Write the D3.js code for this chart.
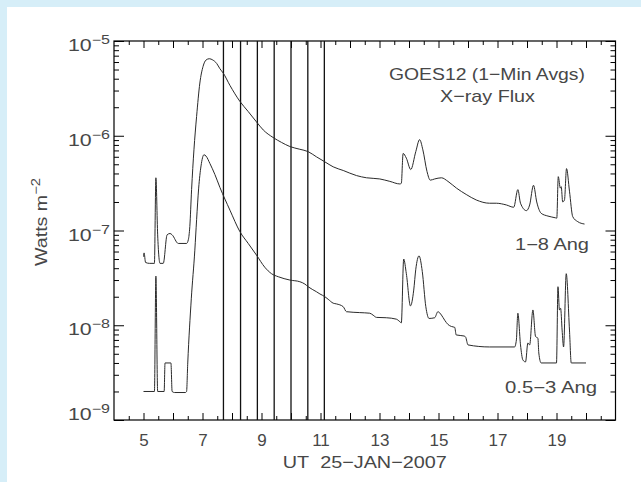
<!DOCTYPE html>
<html>
<head>
<meta charset="utf-8">
<script src="https://cdn.jsdelivr.net/npm/d3@7"></script>
<style>
  html, body { margin: 0; padding: 0; background: #d6eef8; }
  svg { display: block; }
  text { font-family: "Liberation Sans", Arial, sans-serif; fill: #474747; }
</style>
</head>
<body>
<svg id="chart" width="641" height="482"></svg>
<script>
// GOES-12 one-minute X-ray flux, 25 Jan 2007 (UT hours)
const hoursLong = [5.00, 5.02, 5.07, 5.20, 5.37, 5.42, 5.48, 5.56, 5.67, 5.80, 5.90, 5.97, 6.18, 6.46, 6.52,
  6.57, 6.63, 6.71, 6.80, 6.91, 7.02, 7.12, 7.23, 7.35, 7.48, 7.59, 7.70, 7.93, 8.27, 8.55, 8.83, 9.06,
  9.39, 9.68, 9.96, 10.30, 10.58, 10.86, 11.15, 11.43, 11.77, 12.22, 12.56, 13.01, 13.35, 13.69, 13.74,
  13.80, 13.91, 14.06, 14.23, 14.36, 14.47, 14.61, 14.72, 14.87, 15.10, 15.32, 15.61, 15.94, 16.28, 16.73,
  16.96, 17.30, 17.55, 17.69, 17.78, 17.98, 18.09, 18.22, 18.33, 18.48, 18.71, 18.97, 19.01, 19.06, 19.13,
  19.16, 19.21, 19.27, 19.34, 19.44, 19.55, 19.72, 19.95];
const fluxLong = [5.3e-8, 5.8e-8, 4.6e-8, 4.5e-8, 4.5e-8, 3.6e-7, 9.0e-8, 4.5e-8, 4.5e-8, 9.0e-8, 9.3e-8, 9.0e-8, 7.3e-8, 7.3e-8, 8.0e-8,
  1.1e-7, 2.7e-7, 7.1e-7, 1.6e-6, 3.6e-6, 5.4e-6, 6.3e-6, 6.5e-6, 6.3e-6, 5.8e-6, 5.1e-6, 4.6e-6, 3.4e-6, 2.3e-6, 1.8e-6, 1.4e-6, 1.15e-6,
  9.6e-7, 8.5e-7, 7.7e-7, 7.2e-7, 6.8e-7, 6.0e-7, 5.3e-7, 4.7e-7, 4.3e-7, 3.8e-7, 3.6e-7, 3.5e-7, 3.3e-7, 3.1e-7, 3.15e-7,
  6.5e-7, 5.8e-7, 4.4e-7, 6.8e-7, 9.1e-7, 7.1e-7, 4.2e-7, 3.4e-7, 3.5e-7, 3.6e-7, 3.3e-7, 2.8e-7, 2.4e-7, 2.1e-7, 1.94e-7,
  1.94e-7, 1.86e-7, 1.76e-7, 2.7e-7, 1.94e-7, 1.62e-7, 1.86e-7, 3.0e-7, 2.0e-7, 1.52e-7, 1.42e-7, 1.36e-7, 1.35e-7, 3.7e-7, 2.8e-7,
  2.9e-7, 2.0e-7, 2.1e-7, 4.5e-7, 2.6e-7, 1.40e-7, 1.24e-7, 1.17e-7];

const hoursShort = [5.00, 5.37, 5.42, 5.48, 5.70, 5.73, 5.93, 5.97, 6.05, 6.42, 6.46, 6.50, 6.62, 6.74, 6.80,
  6.87, 6.95, 7.05, 7.12, 7.25, 7.42, 7.59, 7.93, 8.27, 8.55, 8.83, 9.11, 9.34, 9.57, 9.96, 10.30, 10.47,
  10.58, 10.86, 10.98, 11.15, 11.26, 11.43, 11.54, 11.77, 11.88, 12.33, 12.67, 12.78, 12.90, 13.23, 13.57,
  13.69, 13.74, 13.82, 13.91, 14.05, 14.16, 14.23, 14.34, 14.45, 14.57, 14.68, 14.87, 14.98, 15.10, 15.21,
  15.32, 15.44, 15.55, 15.60, 15.87, 15.92, 16.00, 16.73, 17.58, 17.64, 17.69, 17.78, 17.86, 17.95, 18.03,
  18.09, 18.20, 18.29, 18.37, 18.40, 18.48, 19.00, 19.05, 19.10, 19.14, 19.19, 19.24, 19.33, 19.44, 19.50, 20.00];
const fluxShort = [2.0e-9, 2.0e-9, 3.3e-8, 2.0e-9, 2.0e-9, 4.0e-9, 4.0e-9, 2.0e-9, 1.95e-9, 1.95e-9, 2.0e-9, 4.0e-9, 1.9e-8, 6.2e-8, 1.3e-7,
  2.8e-7, 4.8e-7, 6.3e-7, 6.1e-7, 5.1e-7, 3.9e-7, 2.85e-7, 1.64e-7, 9.7e-8, 7.3e-8, 5.5e-8, 4.1e-8, 3.5e-8, 3.25e-8, 3.0e-8, 2.88e-8, 2.72e-8,
  2.55e-8, 2.26e-8, 2.14e-8, 2.0e-8, 1.88e-8, 1.71e-8, 1.68e-8, 1.57e-8, 1.39e-8, 1.36e-8, 1.34e-8, 1.28e-8, 1.21e-8, 1.20e-8, 1.16e-8,
  1.09e-8, 1.06e-8, 5.0e-8, 3.5e-8, 1.6e-8, 2.35e-8, 3.9e-8, 5.4e-8, 3.7e-8, 1.57e-8, 1.18e-8, 1.2e-8, 1.39e-8, 1.28e-8, 1.13e-8,
  1.02e-8, 9.7e-9, 9.5e-9, 7.9e-9, 7.7e-9, 7.5e-9, 6.2e-9, 5.9e-9, 5.9e-9, 7.0e-9, 1.34e-8, 6.2e-9, 4.3e-9, 4.1e-9, 6.5e-9,
  6.2e-9, 1.45e-8, 7.6e-9, 7.3e-9, 5.1e-9, 4.0e-9, 4.0e-9, 2.55e-8, 1.45e-8, 1.51e-8, 8.9e-9, 5.9e-9, 3.5e-8, 8.9e-9, 4.0e-9, 4.0e-9];

// time markers (UT hours)
const markerHours = [7.71, 8.29, 8.86, 9.43, 10.00, 10.57, 11.13];

// axis ticks and labels
const majorHours = d3.range(5, 21, 1);
const minorHours = d3.range(4.5, 21, 1);
const labelHours = [5, 7, 9, 11, 13, 15, 17, 19];
const decadeExponents = [-9, -8, -7, -6, -5];

const W = 641, H = 482;
const box = { left: 114, right: 615.5, top: 41, bottom: 420 };

const svg = d3.select("#chart");
svg.append("rect").attr("width", W).attr("height", H).attr("fill", "#d6eef8");
svg.append("rect").attr("x", 7).attr("y", 7).attr("width", W - 7).attr("height", H - 7).attr("fill", "#ffffff");

const x = d3.scaleLinear().domain([4, 21]).range([box.left, box.right]);
const y = d3.scaleLog().domain([1e-9, 1e-5]).range([box.bottom, box.top]);

// minor y ticks: 2..9 within each decade
const minorFlux = [];
decadeExponents.slice(0, -1).forEach(e => {
  for (let k = 2; k <= 9; k++) minorFlux.push(k * Math.pow(10, e));
});
const majorFlux = decadeExponents.map(e => Math.pow(10, e));

function tickAxis(axisFn, scale, values, size, tx, ty) {
  const g = svg.append("g")
    .attr("transform", `translate(${tx},${ty})`)
    .call(axisFn(scale).tickValues(values).tickSizeInner(size).tickSizeOuter(0).tickFormat(""));
  g.select(".domain").remove();
  g.selectAll("line").attr("stroke", "#000").attr("stroke-width", 1);
  return g;
}

// inward ticks on all four sides
tickAxis(d3.axisBottom, x, majorHours, -7, 0, box.bottom);
tickAxis(d3.axisBottom, x, minorHours, -4, 0, box.bottom);
tickAxis(d3.axisTop, x, majorHours, -7, 0, box.top);
tickAxis(d3.axisTop, x, minorHours, -4, 0, box.top);
tickAxis(d3.axisLeft, y, majorFlux, -10, box.left, 0);
tickAxis(d3.axisLeft, y, minorFlux, -5, box.left, 0);
tickAxis(d3.axisRight, y, majorFlux, -10, box.right, 0);
tickAxis(d3.axisRight, y, minorFlux, -5, box.right, 0);

// frame
svg.append("rect")
  .attr("x", box.left).attr("y", box.top)
  .attr("width", box.right - box.left).attr("height", box.bottom - box.top)
  .attr("fill", "none").attr("stroke", "#000").attr("stroke-width", 1.2);

// marker lines
svg.append("g").selectAll("line").data(markerHours).join("line")
  .attr("x1", d => x(d)).attr("x2", d => x(d))
  .attr("y1", box.top).attr("y2", box.bottom)
  .attr("stroke", "#111").attr("stroke-width", 1.3);

// flux curves
const path = (hours, flux) => d3.line()
  .x((d, i) => x(hours[i]))
  .y(d => y(d))
  .curve(d3.curveMonotoneX)(flux);

svg.append("path").attr("d", path(hoursLong, fluxLong))
  .attr("fill", "none").attr("stroke", "#2a2a2a").attr("stroke-width", 1);
svg.append("path").attr("d", path(hoursShort, fluxShort))
  .attr("fill", "none").attr("stroke", "#2a2a2a").attr("stroke-width", 1);

// x tick labels
const xl = svg.append("g")
  .attr("transform", `translate(0,${box.bottom})`)
  .call(d3.axisBottom(x).tickValues(labelHours).tickSize(0).tickPadding(14).tickFormat(d3.format("d")));
xl.select(".domain").remove();
xl.selectAll("text").attr("font-size", 17).attr("font-family", "Liberation Sans, Arial, sans-serif").attr("fill", "#474747");

// y tick labels 10^n
const yl = svg.append("g").selectAll("text").data(decadeExponents).join("text")
  .attr("x", 110)
  .attr("y", d => Math.min(y(Math.pow(10, d)) + 10, box.bottom))
  .attr("text-anchor", "end")
  .attr("font-size", 16)
  .attr("textLength", 42).attr("lengthAdjust", "spacingAndGlyphs");
yl.append("tspan").text("10");
yl.append("tspan").attr("font-size", 12).attr("dy", -7).text(d => "\u2212" + Math.abs(d));

// axis titles
svg.append("text")
  .attr("x", (box.left + box.right) / 2).attr("y", 468)
  .attr("text-anchor", "middle").attr("font-size", 17)
  .attr("textLength", 164).attr("lengthAdjust", "spacingAndGlyphs")
  .text("UT\u00a0\u00a025\u2212JAN\u22122007");

const yt = svg.append("text")
  .attr("transform", "translate(47,222) rotate(-90)")
  .attr("text-anchor", "middle").attr("font-size", 16)
  .attr("textLength", 88).attr("lengthAdjust", "spacingAndGlyphs");
yt.append("tspan").text("Watts m");
yt.append("tspan").attr("font-size", 12).attr("dy", -7).text("\u22122");

// annotations
svg.append("text").attr("x", 487).attr("y", 79.5)
  .attr("text-anchor", "middle").attr("font-size", 17)
  .attr("textLength", 196).attr("lengthAdjust", "spacingAndGlyphs")
  .text("GOES12 (1\u2212Min Avgs)");
svg.append("text").attr("x", 487.5).attr("y", 101.5)
  .attr("text-anchor", "middle").attr("font-size", 17)
  .attr("textLength", 95).attr("lengthAdjust", "spacingAndGlyphs")
  .text("X\u2212ray Flux");
svg.append("text").attr("x", 589).attr("y", 249.5)
  .attr("text-anchor", "end").attr("font-size", 16)
  .attr("textLength", 74).attr("lengthAdjust", "spacingAndGlyphs")
  .text("1\u22128 Ang");
svg.append("text").attr("x", 597).attr("y", 392.8)
  .attr("text-anchor", "end").attr("font-size", 16)
  .attr("textLength", 92).attr("lengthAdjust", "spacingAndGlyphs")
  .text("0.5\u22123 Ang");
</script>
</body>
</html>
